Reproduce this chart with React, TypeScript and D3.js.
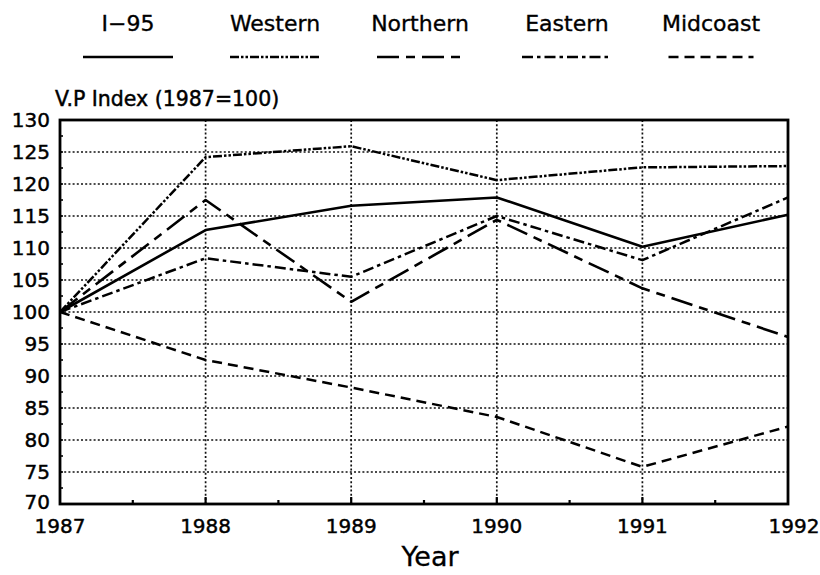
import * as d3 from 'd3';
import React, { useEffect, useRef } from 'react';

// chart data
const years = [1987, 1988, 1989, 1990, 1991, 1992];
const i95 = [100, 112.8, 116.6, 117.9, 110.2, 115.2];
const western = [100, 124.2, 125.9, 120.6, 122.6, 122.8];
const northern = [100, 117.5, 101.6, 114.4, 103.7, 96.1];
const eastern = [100, 108.4, 105.5, 115.0, 108.1, 117.9];
const midcoast = [100, 92.5, 88.2, 83.6, 75.8, 82.1];
const yTicks = [70, 75, 80, 85, 90, 95, 100, 105, 110, 115, 120, 125, 130];

const seriesNames = ['I\u221295', 'Western', 'Northern', 'Eastern', 'Midcoast'];
const seriesValues = [i95, western, northern, eastern, midcoast];

const App = () => {
  const svgRef = useRef(null);

  useEffect(() => {
    const width = 820;
    const height = 575;
    const margin = { top: 120, right: 32, bottom: 71, left: 60 };

    const svg = d3.select(svgRef.current);
    svg.selectAll('*').remove();
    svg.attr('width', width).attr('height', height);

    const xScale = d3.scaleLinear()
      .domain([1987, 1992])
      .range([margin.left, width - margin.right]);

    const yScale = d3.scaleLinear()
      .domain([70, 130])
      .range([height - margin.bottom, margin.top]);

    const styles = [
      { dash: null, width: 2.6 },
      { dash: '9,2,2.5,2,2.5,2', width: 2.5 },
      { dash: '22,7,9,7', width: 2.6 },
      { dash: '11,4,3.5,4', width: 2.5 },
      { dash: '10,6', width: 2.5 },
    ];

    // text helper, slightly heavier than the plain face
    const label = (g, size) => g
      .attr('font-family', 'DejaVu Sans')
      .attr('font-size', size)
      .attr('fill', '#000')
      .attr('stroke', '#000')
      .attr('stroke-width', 0.45);

    // gridlines
    svg.append('g')
      .selectAll('line')
      .data(yTicks.slice(1, -1))
      .enter()
      .append('line')
      .attr('x1', xScale(1987))
      .attr('x2', xScale(1992))
      .attr('y1', d => yScale(d))
      .attr('y2', d => yScale(d))
      .attr('stroke', '#111')
      .attr('stroke-width', 1.7)
      .attr('stroke-dasharray', '2,2.2');

    svg.append('g')
      .selectAll('line')
      .data(years.slice(1, -1))
      .enter()
      .append('line')
      .attr('x1', d => xScale(d))
      .attr('x2', d => xScale(d))
      .attr('y1', yScale(130))
      .attr('y2', yScale(70))
      .attr('stroke', '#111')
      .attr('stroke-width', 1.7)
      .attr('stroke-dasharray', '2,2.2');

    // frame
    svg.append('rect')
      .attr('x', xScale(1987))
      .attr('y', yScale(130))
      .attr('width', xScale(1992) - xScale(1987))
      .attr('height', yScale(70) - yScale(130))
      .attr('fill', 'none')
      .attr('stroke', '#000')
      .attr('stroke-width', 2.8);

    // minor ticks
    const xMinor = d3.range(1987.5, 1992, 0.5);
    svg.append('g')
      .selectAll('line')
      .data(xMinor)
      .enter()
      .append('line')
      .attr('x1', d => xScale(d))
      .attr('x2', d => xScale(d))
      .attr('y1', yScale(70))
      .attr('y2', d => yScale(70) - (Number.isInteger(d) ? 7 : 4))
      .attr('stroke', '#000')
      .attr('stroke-width', 2.2);

    const yMinor = d3.range(72.5, 130, 2.5);
    svg.append('g')
      .selectAll('line')
      .data(yMinor)
      .enter()
      .append('line')
      .attr('x1', xScale(1987))
      .attr('x2', xScale(1987) + 3)
      .attr('y1', d => yScale(d))
      .attr('y2', d => yScale(d))
      .attr('stroke', '#000')
      .attr('stroke-width', 1.6);

    // tick labels
    label(svg.append('g'), 20)
      .selectAll('text')
      .data(yTicks)
      .enter()
      .append('text')
      .attr('x', xScale(1987) - 10)
      .attr('y', d => yScale(d) + (d === 70 ? 5 : 7))
      .attr('text-anchor', 'end')
      .text(d => d);

    label(svg.append('g'), 20)
      .selectAll('text')
      .data(years)
      .enter()
      .append('text')
      .attr('x', d => xScale(d) + (d === 1992 ? 6 : 0))
      .attr('y', yScale(70) + 29)
      .attr('text-anchor', 'middle')
      .text(d => d);

    label(svg.append('text'), 20.5)
      .attr('x', 55)
      .attr('y', 106)
      .text('V.P Index (1987=100)');

    label(svg.append('text'), 27)
      .attr('x', 430)
      .attr('y', 566)
      .attr('text-anchor', 'middle')
      .attr('stroke-width', 0.3)
      .text('Year');

    // lines
    const line = d3.line()
      .x((d, i) => xScale(years[i]))
      .y(d => yScale(d));

    seriesValues.forEach((vals, k) => {
      svg.append('path')
        .datum(vals)
        .attr('fill', 'none')
        .attr('stroke', '#000')
        .attr('stroke-width', styles[k].width)
        .attr('stroke-dasharray', styles[k].dash)
        .attr('stroke-linejoin', 'round')
        .attr('d', line);
    });

    // legend
    const legendX = [128, 275, 420, 567, 711];
    const legendW = [90, 90, 86, 90, 85];
    const legend = svg.append('g');
    seriesNames.forEach((name, k) => {
      label(legend.append('text'), 22)
        .attr('x', legendX[k])
        .attr('y', 31)
        .attr('text-anchor', 'middle')
        .attr('stroke-width', 0.35)
        .text(name);
      legend.append('line')
        .attr('x1', legendX[k] - legendW[k] / 2)
        .attr('x2', legendX[k] + legendW[k] / 2)
        .attr('y1', 57)
        .attr('y2', 57)
        .attr('stroke', '#000')
        .attr('stroke-width', styles[k].width)
        .attr('stroke-dasharray', styles[k].dash);
    });
  }, []);

  return <svg ref={svgRef} style={{ position: 'absolute', left: 0, top: 0, background: '#fff' }}></svg>;
};

export default App;
